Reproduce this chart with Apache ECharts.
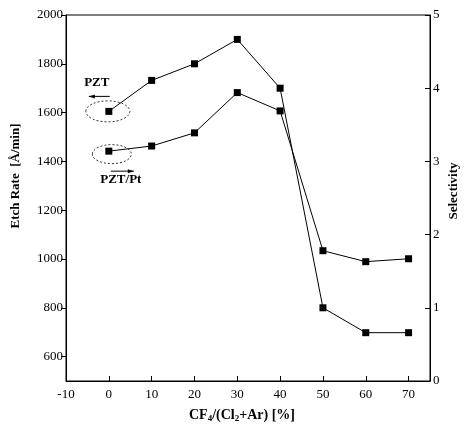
<!DOCTYPE html>
<html>
<head>
<meta charset="utf-8">
<script src="https://cdn.jsdelivr.net/npm/echarts@6/dist/echarts.min.js"></script>
<style>
  html, body { margin: 0; padding: 0; background: #fff; }
  #chart { width: 474px; height: 428px; }
</style>
</head>
<body>
<div id="chart"></div>
<script>
var ratio = [0, 10, 20, 30, 40, 50, 60, 70];
var etchRate = [1605, 1732, 1800, 1900, 1700, 800, 698, 698];
var selectivity = [3.14, 3.21, 3.39, 3.94, 3.69, 1.78, 1.63, 1.67];
var etchTicks = [600, 800, 1000, 1200, 1400, 1600, 1800, 2000];

var font = "Liberation Serif";
var chart = echarts.init(document.getElementById("chart"));

function pairs(ys) {
  return ratio.map(function (x, i) { return [x, ys[i]]; });
}

chart.setOption({
  animation: false,
  grid: {
    left: 66, right: 44, top: 15, bottom: 42,
    show: true, borderColor: "#000", borderWidth: 1
  },
  xAxis: {
    type: "value", min: -10, max: 75, interval: 10,
    name: "{b|CF}{s|4}{b|/(Cl}{s|2}{b|+Ar) [%]}",
    nameLocation: "middle", nameGap: 27,
    nameTextStyle: {
      padding: [0, 12, 0, 0],
      rich: {
        b: { fontFamily: font, fontWeight: "bold", fontSize: 14, color: "#000" },
        s: { fontFamily: font, fontWeight: "bold", fontSize: 9, color: "#000", verticalAlign: "bottom", padding: [6, 0, 0, 0] }
      }
    },
    axisLine: { onZero: false, lineStyle: { color: "#000" } },
    axisTick: { inside: true, length: 5, lineStyle: { color: "#000" } },
    axisLabel: {
      fontFamily: font, fontSize: 13, color: "#000", margin: 7,
      formatter: function (v) { return v > 70 ? "" : String(v); }
    },
    splitLine: { show: false }
  },
  yAxis: [
    {
      type: "value", min: 500, max: 2000,
      name: "Etch Rate  [Å/min]",
      nameLocation: "middle", nameGap: 44, nameRotate: 90,
      nameTextStyle: { fontFamily: font, fontWeight: "bold", fontSize: 13, color: "#000", padding: [0, 0, 0, 44] },
      axisLine: { show: true, onZero: false, lineStyle: { color: "#000" } },
      axisTick: { show: true, length: 5, customValues: etchTicks, lineStyle: { color: "#000" } },
      axisLabel: {
        fontFamily: font, fontSize: 13, color: "#000", margin: 3, customValues: etchTicks,
        formatter: function (v) { return String(v); }
      },
      splitLine: { show: false }
    },
    {
      type: "value", min: 0, max: 5, interval: 1, position: "right",
      axisLine: { show: true, onZero: false, lineStyle: { color: "#000" } },
      axisTick: { show: true, inside: true, length: 5, lineStyle: { color: "#000" } },
      axisLabel: { fontFamily: font, fontSize: 13, color: "#000", margin: 3 },
      splitLine: { show: false }
    }
  ],
  series: [
    {
      name: "PZT", type: "line", yAxisIndex: 0,
      data: pairs(etchRate),
      symbol: "rect", symbolSize: 7,
      itemStyle: { color: "#000" },
      lineStyle: { color: "#000", width: 1 }
    },
    {
      name: "PZT/Pt", type: "line", yAxisIndex: 1,
      data: pairs(selectivity),
      symbol: "rect", symbolSize: 7,
      itemStyle: { color: "#000" },
      lineStyle: { color: "#000", width: 1 }
    }
  ]
});

// annotations: dashed ellipses and arrows next to the first points
var p1 = chart.convertToPixel({ xAxisIndex: 0, yAxisIndex: 0 }, [ratio[0], etchRate[0]]);
var p2 = chart.convertToPixel({ xAxisIndex: 0, yAxisIndex: 1 }, [ratio[0], selectivity[0]]);

function arrow(x1, x2, y) {
  var dir = x2 > x1 ? 1 : -1;
  return [
    { type: "line", shape: { x1: x1, y1: y, x2: x2, y2: y }, style: { stroke: "#000", lineWidth: 1 } },
    { type: "polygon", shape: { points: [[x2, y], [x2 - dir * 6, y - 2], [x2 - dir * 6, y + 2]] }, style: { fill: "#000" } }
  ];
}

var labelStyle = { fontFamily: font, fontWeight: "bold", fontSize: 13, fill: "#000", align: "center", verticalAlign: "middle" };

chart.setOption({
  graphic: [
    { type: "ellipse", shape: { cx: p1[0] - 1, cy: p1[1], rx: 22, ry: 10.5 },
      style: { fill: null, stroke: "#000", lineWidth: 0.8, lineDash: [2, 2] } },
    { type: "ellipse", shape: { cx: p2[0] + 3, cy: p2[1] + 3, rx: 19.5, ry: 9.5 },
      style: { fill: null, stroke: "#000", lineWidth: 0.8, lineDash: [2, 2] } },
    { type: "text", x: p1[0] - 12, y: p1[1] - 29, style: Object.assign({ text: "PZT" }, labelStyle) },
    { type: "text", x: p2[0] + 12, y: p2[1] + 28, style: Object.assign({ text: "PZT/Pt" }, labelStyle) },
    // right axis title
    { type: "text", x: 454, y: 191, rotation: Math.PI / 2, style: Object.assign({ text: "Selectivity" }, labelStyle) }
  ].concat(arrow(p1[0] + 1, p1[0] - 20, p1[1] - 15))
   .concat(arrow(p2[0] + 2, p2[0] + 25, p2[1] + 20))
});
</script>
</body>
</html>
